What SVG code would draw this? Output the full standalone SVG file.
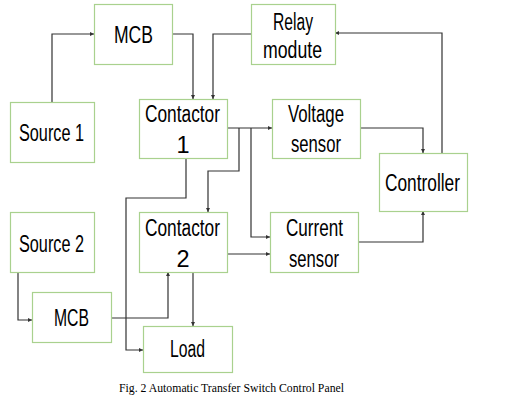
<svg xmlns="http://www.w3.org/2000/svg" width="512" height="405" viewBox="0 0 512 405">
<style>
.box{fill:#fff;stroke:#a9d18e;stroke-width:1.2}
.lbl{font-family:"Liberation Sans",Arial,sans-serif;font-size:23.5px;fill:#000}
.cap{font-family:"Liberation Serif","Times New Roman",serif;font-size:13px;fill:#000}
.wire{fill:none;stroke:#333;stroke-width:1.2;marker-end:url(#ah)}
</style>
<defs>
<marker id="ah" viewBox="0 0 6 6" refX="6" refY="3" markerWidth="4" markerHeight="4" markerUnits="userSpaceOnUse" orient="auto">
<path d="M0,0L6,3L0,6z" fill="#333"/>
</marker>
</defs>
<rect width="512" height="405" fill="#fff"/>
<g id="connectors">
<path class="wire" d="M52,102V34H94"/>
<path class="wire" d="M172,34H193V99"/>
<path class="wire" d="M251,34H213V99"/>
<path class="wire" d="M442,153V33H335"/>
<path class="wire" d="M360,128H423V153"/>
<path class="wire" d="M358,242H423V211"/>
<path class="wire" d="M227,128H272"/>
<path class="wire" d="M239,128V171H208V212"/>
<path class="wire" d="M251,128V237H270"/>
<path class="wire" d="M227,254H270"/>
<path class="wire" d="M186,158V198H126V350H143"/>
<path class="wire" d="M18,272V320H32"/>
<path class="wire" d="M111,318H168V272"/>
<path class="wire" d="M193,272V326"/>
</g>
<g id="mcb1"><rect class="box" x="94.5" y="4.5" width="78" height="60"/><text class="lbl" x="114" y="43" textLength="39" lengthAdjust="spacingAndGlyphs">MCB</text></g>
<g id="source1"><rect class="box" x="10.5" y="102.5" width="84" height="60"/><text class="lbl" x="19" y="141" textLength="65" lengthAdjust="spacingAndGlyphs">Source 1</text></g>
<g id="contactor1"><rect class="box" x="139.5" y="99.5" width="88" height="59"/><text class="lbl" x="145" y="122" textLength="75" lengthAdjust="spacingAndGlyphs">Contactor</text><text class="lbl" x="183" y="153" text-anchor="middle">1</text></g>
<g id="relay"><rect class="box" x="251.5" y="4.5" width="84" height="60"/><text class="lbl" x="273" y="30" textLength="40" lengthAdjust="spacingAndGlyphs">Relay</text><text class="lbl" x="263" y="58" textLength="59" lengthAdjust="spacingAndGlyphs">modute</text></g>
<g id="voltage"><rect class="box" x="272.5" y="99.5" width="88" height="59"/><text class="lbl" x="288" y="122" textLength="56" lengthAdjust="spacingAndGlyphs">Voltage</text><text class="lbl" x="291" y="152" textLength="50" lengthAdjust="spacingAndGlyphs">sensor</text></g>
<g id="controller"><rect class="box" x="379.5" y="153.5" width="88" height="58"/><text class="lbl" x="385" y="191" textLength="75" lengthAdjust="spacingAndGlyphs">Controller</text></g>
<g id="current"><rect class="box" x="270.5" y="212.5" width="88" height="60"/><text class="lbl" x="286" y="236" textLength="57" lengthAdjust="spacingAndGlyphs">Current</text><text class="lbl" x="289" y="267" textLength="50" lengthAdjust="spacingAndGlyphs">sensor</text></g>
<g id="source2"><rect class="box" x="10.5" y="212.5" width="84" height="60"/><text class="lbl" x="19" y="252" textLength="65" lengthAdjust="spacingAndGlyphs">Source 2</text></g>
<g id="contactor2"><rect class="box" x="139.5" y="212.5" width="88" height="60"/><text class="lbl" x="145" y="236" textLength="75" lengthAdjust="spacingAndGlyphs">Contactor</text><text class="lbl" x="183" y="267" text-anchor="middle">2</text></g>
<g id="mcb2"><rect class="box" x="32.5" y="292.5" width="79" height="50"/><text class="lbl" x="54" y="326" textLength="35" lengthAdjust="spacingAndGlyphs">MCB</text></g>
<g id="load"><rect class="box" x="143.5" y="326.5" width="89" height="46"/><text class="lbl" x="170" y="357" textLength="35" lengthAdjust="spacingAndGlyphs">Load</text></g>
<text class="cap" x="119" y="392" textLength="225" lengthAdjust="spacingAndGlyphs">Fig. 2 Automatic Transfer Switch Control Panel</text>
</svg>
